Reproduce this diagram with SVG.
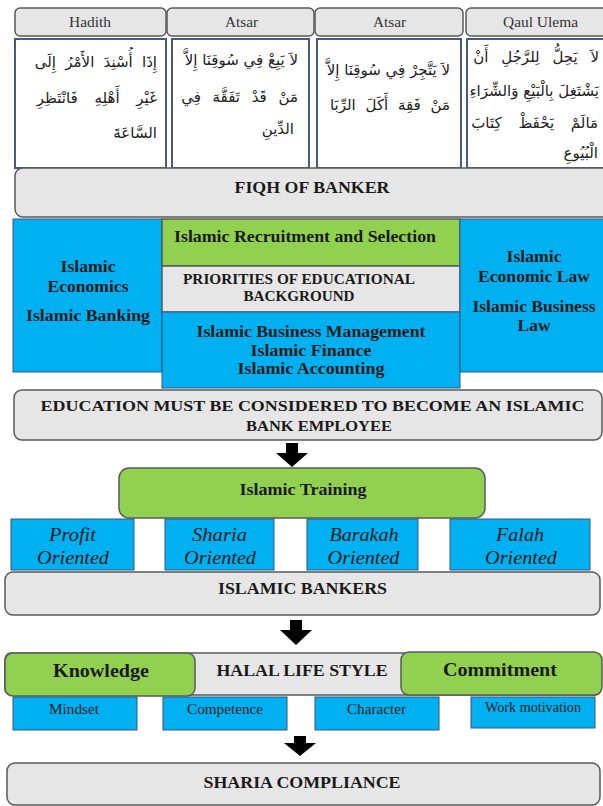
<svg xmlns="http://www.w3.org/2000/svg" width="603" height="806" viewBox="0 0 603 806">
<style>
.gray{fill:#E7E6E6;stroke:#595959;stroke-width:1.5}
.white{fill:#ffffff;stroke:#4A5A7C;stroke-width:2}
.blue{fill:#00B0F0;stroke:#35577F;stroke-width:1}
.green{fill:#92D050;stroke:#5A5A5A;stroke-width:1.5}
.t{font-family:"Liberation Serif","Times New Roman",serif;fill:#1a1a1a;text-anchor:middle}
.b{font-weight:bold}
.i{font-style:italic}
.hdr{font-size:14px;fill:#333}
.ar{font-family:"DejaVu Sans",sans-serif;font-size:15px;fill:#222;text-anchor:end}
.arrow{fill:#000}
</style>

<g id="hadith">
<rect class="gray" x="15" y="8" width="151" height="28" rx="5"/>
<text class="t hdr" x="90" y="27" textLength="42" lengthAdjust="spacingAndGlyphs">Hadith</text>
<rect class="white" x="15" y="39" width="151" height="129"/>
<text class="ar" x="157" y="67" font-size="16" word-spacing="4.5">إِذَا أُسْنِدَ الأَمْرُ إِلَى</text>
<text class="ar" x="157" y="103" font-size="16" word-spacing="12">غَيْرِ أَهْلِهِ فَانْتَظِرِ</text>
<text class="ar" x="157" y="138" font-size="16">السَّاعَةَ</text>
</g>

<g id="atsar1">
<rect class="gray" x="167" y="8" width="147" height="28" rx="5"/>
<text class="t hdr" x="241.5" y="27" textLength="33" lengthAdjust="spacingAndGlyphs">Atsar</text>
<rect class="white" x="172" y="39" width="137" height="129"/>
<text class="ar" x="298" y="65">لاَ يَبِعْ فِي سُوقِنَا إِلاَّ</text>
<text class="ar" x="298" y="102" word-spacing="7">مَنْ قَدْ تَفَقَّهَ فِي</text>
<text class="ar" x="294" y="134">الدِّينِ</text>
</g>

<g id="atsar2">
<rect class="gray" x="315" y="8" width="148" height="28" rx="5"/>
<text class="t hdr" x="389.5" y="27" textLength="33" lengthAdjust="spacingAndGlyphs">Atsar</text>
<rect class="white" x="317" y="39" width="144" height="129"/>
<text class="ar" x="450" y="75">لاَ يَتَّجِرْ فِي سُوقِنَا إِلاَّ</text>
<text class="ar" x="450" y="110" word-spacing="5">مَنْ فَقِهَ أَكَلَ الرِّبَا</text>
</g>

<g id="qaul-ulema">
<rect class="gray" x="466" y="8" width="150" height="28" rx="5"/>
<text class="t hdr" x="540.5" y="27" textLength="75" lengthAdjust="spacingAndGlyphs">Qaul Ulema</text>
<rect class="white" x="467" y="39" width="150" height="129"/>
<text class="ar" x="599" y="62" font-size="14" word-spacing="8">لاَ يَحِلُّ لِلرَّجُلِ أَنْ</text>
<text class="ar" x="599" y="96" font-size="14">يَشْتَغِلَ بِالْبَيْعِ وَالشِّرَاءِ</text>
<text class="ar" x="598" y="128" font-size="14" word-spacing="12">مَالَمْ يَحْفَظْ كِتَابَ</text>
<text class="ar" x="598" y="158" font-size="14">الْبُيُوعِ</text>
</g>

<g id="fiqh">
<rect class="gray" x="15" y="168" width="600" height="49" rx="8"/>
<text class="t b" x="312" y="193" font-size="16" textLength="155" lengthAdjust="spacingAndGlyphs">FIQH OF BANKER</text>
</g>

<g id="economics">
<rect class="blue" x="13" y="219" width="149" height="153"/>
<text class="t b" x="88" y="272" font-size="16" textLength="55" lengthAdjust="spacingAndGlyphs">Islamic</text>
<text class="t b" x="88" y="292" font-size="16" textLength="81" lengthAdjust="spacingAndGlyphs">Economics</text>
<text class="t b" x="88" y="321" font-size="16" textLength="124" lengthAdjust="spacingAndGlyphs">Islamic Banking</text>
</g>

<g id="recruitment">
<rect class="green" x="162" y="219" width="298" height="47"/>
<text class="t b" x="305" y="242" font-size="16" textLength="262" lengthAdjust="spacingAndGlyphs">Islamic Recruitment and Selection</text>
</g>

<g id="priorities">
<rect class="gray" x="162" y="266" width="298" height="46" rx="0"/>
<text class="t b" x="299" y="284" font-size="14" textLength="232" lengthAdjust="spacingAndGlyphs">PRIORITIES OF EDUCATIONAL</text>
<text class="t b" x="299" y="301" font-size="14" textLength="111" lengthAdjust="spacingAndGlyphs">BACKGROUND</text>
</g>

<g id="management">
<rect class="blue" x="162" y="312" width="298" height="76"/>
<text class="t b" x="311" y="337" font-size="16" textLength="229" lengthAdjust="spacingAndGlyphs">Islamic Business Management</text>
<text class="t b" x="311" y="356" font-size="16" textLength="121" lengthAdjust="spacingAndGlyphs">Islamic Finance</text>
<text class="t b" x="311" y="374" font-size="16" textLength="147" lengthAdjust="spacingAndGlyphs">Islamic Accounting</text>
</g>

<g id="law">
<rect class="blue" x="460" y="219" width="150" height="153"/>
<text class="t b" x="534" y="262" font-size="16" textLength="55" lengthAdjust="spacingAndGlyphs">Islamic</text>
<text class="t b" x="534" y="282" font-size="16" textLength="112" lengthAdjust="spacingAndGlyphs">Economic Law</text>
<text class="t b" x="534" y="312" font-size="16" textLength="123" lengthAdjust="spacingAndGlyphs">Islamic Business</text>
<text class="t b" x="534" y="331" font-size="16" textLength="33" lengthAdjust="spacingAndGlyphs">Law</text>
</g>

<g id="education">
<rect class="gray" x="14" y="390" width="588" height="50" rx="8"/>
<text class="t b" x="312.5" y="411" font-size="15.5" textLength="544" lengthAdjust="spacingAndGlyphs">EDUCATION MUST BE CONSIDERED TO BECOME AN ISLAMIC</text>
<text class="t b" x="319" y="431" font-size="15.5" textLength="146" lengthAdjust="spacingAndGlyphs">BANK EMPLOYEE</text>
</g>

<g id="training">
<rect class="green" x="119" y="468" width="366" height="50" rx="10"/>
<text class="t b" x="303" y="495" font-size="16" textLength="127" lengthAdjust="spacingAndGlyphs">Islamic Training</text>
</g>

<g id="profit">
<rect class="blue" x="11" y="519" width="123" height="51"/>
<text class="t i" x="72.5" y="541" font-size="18" textLength="47" lengthAdjust="spacingAndGlyphs">Profit</text>
<text class="t i" x="73" y="564" font-size="18" textLength="72" lengthAdjust="spacingAndGlyphs">Oriented</text>
</g>
<g id="sharia">
<rect class="blue" x="165" y="519" width="109" height="51"/>
<text class="t i" x="219.5" y="541" font-size="18" textLength="55" lengthAdjust="spacingAndGlyphs">Sharia</text>
<text class="t i" x="220" y="564" font-size="18" textLength="72" lengthAdjust="spacingAndGlyphs">Oriented</text>
</g>
<g id="barakah">
<rect class="blue" x="307" y="519" width="111" height="51"/>
<text class="t i" x="364" y="541" font-size="18" textLength="69" lengthAdjust="spacingAndGlyphs">Barakah</text>
<text class="t i" x="363.5" y="564" font-size="18" textLength="72" lengthAdjust="spacingAndGlyphs">Oriented</text>
</g>
<g id="falah">
<rect class="blue" x="450" y="519" width="140" height="51"/>
<text class="t i" x="520" y="541" font-size="18" textLength="48" lengthAdjust="spacingAndGlyphs">Falah</text>
<text class="t i" x="521" y="564" font-size="18" textLength="72" lengthAdjust="spacingAndGlyphs">Oriented</text>
</g>

<g id="bankers">
<rect class="gray" x="5" y="572" width="595" height="43" rx="8"/>
<text class="t b" x="302.5" y="594" font-size="16" textLength="169" lengthAdjust="spacingAndGlyphs">ISLAMIC BANKERS</text>
</g>

<g id="halal">
<rect class="gray" x="5" y="653" width="596" height="42" rx="6"/>
<text class="t b" x="302" y="676" font-size="16" textLength="171" lengthAdjust="spacingAndGlyphs">HALAL LIFE STYLE</text>
</g>
<g id="knowledge">
<rect class="green" x="5" y="653" width="190" height="43" rx="8"/>
<text class="t b" x="101" y="677" font-size="18" textLength="96" lengthAdjust="spacingAndGlyphs">Knowledge</text>
</g>
<g id="commitment">
<rect class="green" x="401" y="652" width="201" height="43" rx="8"/>
<text class="t b" x="500" y="676" font-size="18" textLength="114" lengthAdjust="spacingAndGlyphs">Commitment</text>
</g>

<g id="mindset">
<rect class="blue" x="13" y="697" width="124" height="33"/>
<text class="t" x="74" y="714" font-size="14" textLength="50" lengthAdjust="spacingAndGlyphs">Mindset</text>
</g>
<g id="competence">
<rect class="blue" x="163" y="697" width="124" height="33"/>
<text class="t" x="225" y="714" font-size="14" textLength="76" lengthAdjust="spacingAndGlyphs">Competence</text>
</g>
<g id="character">
<rect class="blue" x="315" y="697" width="124" height="33"/>
<text class="t" x="376.5" y="714" font-size="14" textLength="59" lengthAdjust="spacingAndGlyphs">Character</text>
</g>
<g id="work-motivation">
<rect class="blue" x="471" y="697" width="124" height="31"/>
<text class="t" x="533" y="712" font-size="14" textLength="96" lengthAdjust="spacingAndGlyphs">Work motivation</text>
</g>

<g id="compliance">
<rect class="gray" x="7" y="763" width="593" height="42" rx="8"/>
<text class="t b" x="302" y="788" font-size="16" textLength="197" lengthAdjust="spacingAndGlyphs">SHARIA COMPLIANCE</text>
</g>

<g id="connectors">
<path class="arrow" d="M286 443 H298 V453 H308 L292 467 L276 453 H286 Z"/>
<path class="arrow" d="M290 620 H302 V630 H312 L296 645 L280 630 H290 Z"/>
<path class="arrow" d="M294 736 H306 V743 H316 L300 756 L284 743 H294 Z"/>
</g>
</svg>
